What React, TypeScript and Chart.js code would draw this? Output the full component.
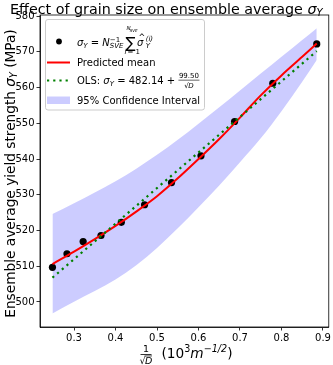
import React, { useEffect, useRef } from "react";
import { Chart, registerables } from "chart.js";

Chart.register(...registerables);

// Ensemble average points
const X_POINTS = [0.248, 0.283, 0.322, 0.365, 0.414, 0.47, 0.535, 0.606, 0.687, 0.779, 0.885];
const Y_POINTS = [509.7, 513.5, 516.9, 518.6, 522.3, 527.2, 533.4, 540.9, 550.5, 561.2, 572.2];

// Predicted mean and 95% CI
const CURVE_X = [0.248, 0.3, 0.35, 0.4, 0.45, 0.5, 0.55, 0.6, 0.65, 0.7, 0.75, 0.8, 0.85, 0.885];
const MEAN = [510.6, 514.1, 517.6, 521.3, 525.3, 529.6, 534.6, 540.0, 545.6, 551.6, 557.8, 563.4, 568.6, 572.3];
const UPPER = [524.6, 527.6, 530.6, 533.8, 537.3, 541.2, 545.4, 549.9, 554.5, 559.2, 563.9, 568.6, 573.3, 576.6];
const LOWER = [496.8, 500.1, 503.1, 506.3, 510.3, 515.1, 520.6, 526.5, 532.6, 539.1, 545.8, 553.4, 561.6, 567.7];

// OLS line endpoints
const OLS_X = [0.248, 0.885];
const OLS_Y = [506.8, 570.2];

const X_TICKS = [0.3, 0.4, 0.5, 0.6, 0.7, 0.8, 0.9];
const Y_TICKS = [500, 510, 520, 530, 540, 550, 560, 570, 580];

const FAM = "'DejaVu Sans', sans-serif";
const font = (size: number, italic = false) => `${italic ? "italic " : ""}${size}px ${FAM}`;

type Run = { t: string; size: number; italic?: boolean; dy?: number; stackSub?: Run; };

function drawRuns(ctx: CanvasRenderingContext2D, x: number, y: number, runs: Run[]) {
  let cx = x;
  for (const r of runs) {
    ctx.font = font(r.size, r.italic);
    ctx.fillText(r.t, cx, y + (r.dy || 0));
    let w = ctx.measureText(r.t).width;
    if (r.stackSub) {
      const s = r.stackSub;
      ctx.font = font(s.size, s.italic);
      ctx.fillText(s.t, cx, y + (s.dy || 0));
      w = Math.max(w, ctx.measureText(s.t).width);
    }
    cx += w;
  }
  return cx;
}

function measureRuns(ctx: CanvasRenderingContext2D, runs: Run[]) {
  let w = 0;
  for (const r of runs) {
    ctx.font = font(r.size, r.italic);
    let rw = ctx.measureText(r.t).width;
    if (r.stackSub) {
      ctx.font = font(r.stackSub.size, r.stackSub.italic);
      rw = Math.max(rw, ctx.measureText(r.stackSub.t).width);
    }
    w += rw;
  }
  return w;
}

const decorPlugin = {
  id: "decor",
  afterDraw(chart: any) {
    const ctx: CanvasRenderingContext2D = chart.ctx;
    const a = chart.chartArea;
    ctx.save();
    // frame
    ctx.strokeStyle = "#000";
    ctx.lineWidth = 0.8;
    ctx.strokeRect(a.left, a.top, a.right - a.left, a.bottom - a.top);

    ctx.fillStyle = "#000";
    ctx.textBaseline = "alphabetic";
    ctx.textAlign = "left";

    // Title
    drawRuns(ctx, 10, 13.5, [
      { t: "Effect of grain size on ensemble average ", size: 14.3 },
      { t: "σ", size: 14.3, italic: true },
      { t: "Y", size: 10, italic: true, dy: 2.5 },
    ]);

    // Y label
    const yRuns: Run[] = [
      { t: "Ensemble average yield strength ", size: 13.7 },
      { t: "σ", size: 13.7, italic: true },
      { t: "Y", size: 9.6, italic: true, dy: 2.4 },
      { t: " (MPa)", size: 13.7 },
    ];
    ctx.save();
    ctx.translate(15, 173.5);
    ctx.rotate(-Math.PI / 2);
    const yw = measureRuns(ctx, yRuns);
    drawRuns(ctx, -yw / 2, 0, yRuns);
    ctx.restore();

    // X label: fraction 1/sqrt(D)
    ctx.font = font(9.5);
    ctx.textAlign = "center";
    ctx.fillText("1", 146, 352);
    ctx.fillRect(140.5, 354, 11, 0.8);
    ctx.textAlign = "left";
    ctx.font = font(9.5);
    ctx.fillText("√", 139.5, 364);
    ctx.font = font(9.5, true);
    ctx.fillText("D", 145, 364);
    ctx.fillRect(144.5, 355.6, 7.5, 0.7);
    drawRuns(ctx, 161.5, 357.5, [
      { t: "(10", size: 13.7 },
      { t: "3", size: 9.6, dy: -5.5 },
      { t: "m", size: 13.7, italic: true },
      { t: "−1/2", size: 9.6, italic: true, dy: -5.5 },
      { t: ")", size: 13.7 },
    ]);

    // Legend frame
    const lx = 45, ly = 19, lw = 159, lh = 90.5;
    ctx.beginPath();
    (ctx as any).roundRect(lx + 0.5, ly + 0.5, lw, lh, 2.5);
    ctx.fillStyle = "rgba(255,255,255,0.8)";
    ctx.fill();
    ctx.strokeStyle = "#cccccc";
    ctx.lineWidth = 1;
    ctx.stroke();

    ctx.fillStyle = "#000";
    // Row 1: scatter marker
    ctx.beginPath();
    ctx.arc(59, 41.5, 2.9, 0, Math.PI * 2);
    ctx.fill();
    let cx = drawRuns(ctx, 77, 45.5, [
      { t: "σ", size: 10, italic: true },
      { t: "Y", size: 7, italic: true, dy: 2 },
      { t: " = ", size: 10 },
      { t: "N", size: 10, italic: true },
      { t: "−1", size: 7, dy: -4, stackSub: { t: "SVE", size: 7, italic: true, dy: 2.5 } },
    ]);
    // Sum with limits
    const sx = cx + 2;
    ctx.font = font(15);
    ctx.fillText("∑", sx, 47.5);
    const sw = ctx.measureText("∑").width;
    ctx.textAlign = "center";
    ctx.font = font(5.5, true);
    ctx.fillText("N", sx + sw / 2 - 2, 30);
    ctx.font = font(4, true);
    ctx.fillText("SVE", sx + sw / 2 + 3, 31.5);
    ctx.font = font(7, true);
    ctx.fillText("i", sx + sw / 2 - 5, 54);
    ctx.font = font(7);
    ctx.fillText(" = 1", sx + sw / 2 + 2, 54);
    ctx.textAlign = "left";
    cx = sx + sw + 1.5;
    ctx.font = font(10, true);
    ctx.fillText("σ", cx, 45.5);
    ctx.font = font(8);
    ctx.fillText("^", cx + 1.5, 40);
    cx += ctx.measureText("σ").width + 3.5;
    drawRuns(ctx, cx, 45.5, [
      { t: "(i)", size: 7, italic: true, dy: -5, stackSub: { t: "Y", size: 7, italic: true, dy: 2 } },
    ]);

    // Row 2: predicted mean
    ctx.strokeStyle = "#ff0000";
    ctx.lineWidth = 2;
    ctx.beginPath();
    ctx.moveTo(47, 62.5);
    ctx.lineTo(70, 62.5);
    ctx.stroke();
    ctx.font = font(10);
    ctx.fillText("Predicted mean", 77, 66);

    // Row 3: OLS
    ctx.strokeStyle = "#008000";
    ctx.lineWidth = 2.2;
    ctx.setLineDash([2.2, 4]);
    ctx.beginPath();
    ctx.moveTo(47, 80.5);
    ctx.lineTo(70, 80.5);
    ctx.stroke();
    ctx.setLineDash([]);
    cx = drawRuns(ctx, 77, 84, [
      { t: "OLS: ", size: 10 },
      { t: "σ", size: 10, italic: true },
      { t: "Y", size: 7, italic: true, dy: 2 },
      { t: " = 482.14 + ", size: 10 },
    ]);
    ctx.textAlign = "center";
    ctx.font = font(7);
    const fw = ctx.measureText("99.50").width;
    ctx.fillText("99.50", cx + fw / 2 + 0.5, 78);
    ctx.fillRect(cx, 79.8, fw + 1, 0.6);
    ctx.font = font(7);
    ctx.fillText("√", cx + fw / 2 - 2, 87.5);
    ctx.font = font(7, true);
    ctx.fillText("D", cx + fw / 2 + 2.5, 87.5);
    ctx.textAlign = "left";

    // Row 4: CI patch
    ctx.fillStyle = "rgba(0,0,255,0.2)";
    ctx.fillRect(47, 96.5, 23, 7.5);
    ctx.fillStyle = "#000";
    ctx.font = font(10);
    ctx.fillText("95% Confidence Interval", 77, 104);

    ctx.restore();
  },
};

export default function App() {
  const ref = useRef<HTMLCanvasElement>(null);
  useEffect(() => {
    document.body.style.margin = "0";
    const c = ref.current!;
    const pts = (xs: number[], ys: number[]) => xs.map((x, i) => ({ x, y: ys[i] }));
    const chart = new Chart(c, {
      type: "line",
      data: {
        datasets: [
          {
            label: "OLS",
            data: pts(OLS_X, OLS_Y),
            borderColor: "#008000",
            borderWidth: 2.2,
            borderDash: [2.2, 4],
            pointRadius: 0,
            fill: false,
          },
          {
            label: "Predicted mean",
            data: pts(CURVE_X, MEAN),
            borderColor: "#ff0000",
            borderWidth: 2,
            pointRadius: 0,
            cubicInterpolationMode: "monotone",
            fill: false,
          },
          {
            label: "Ensemble mean",
            data: pts(X_POINTS, Y_POINTS),
            showLine: false,
            pointRadius: 3.6,
            pointBackgroundColor: "#000",
            pointBorderColor: "#000",
            pointBorderWidth: 0,
            fill: false,
          },
          {
            label: "Upper",
            data: pts(CURVE_X, UPPER),
            borderWidth: 0,
            borderColor: "rgba(0,0,0,0)",
            pointRadius: 0,
            cubicInterpolationMode: "monotone",
            backgroundColor: "rgba(0,0,255,0.2)",
            fill: "+1",
          },
          {
            label: "Lower",
            data: pts(CURVE_X, LOWER),
            borderWidth: 0,
            borderColor: "rgba(0,0,0,0)",
            pointRadius: 0,
            cubicInterpolationMode: "monotone",
            fill: false,
          },
        ],
      },
      options: {
        responsive: false,
        animation: false,
        layout: { padding: { left: 0, top: 15, right: 2, bottom: 0 } },
        plugins: {
          legend: { display: false },
          title: { display: false },
          tooltip: { enabled: false },
        },
        scales: {
          x: {
            type: "linear",
            min: 0.218,
            max: 0.914,
            afterBuildTicks: (s: any) => { s.ticks = X_TICKS.map((v) => ({ value: v })); },
            afterFit: (s: any) => { s.height = 38; },
            ticks: {
              color: "#000",
              font: { family: FAM, size: 10 },
              padding: 2,
              maxRotation: 0,
              callback: (v: any) => Number(v).toFixed(1),
            },
            grid: { display: true, drawOnChartArea: false, drawTicks: true, tickLength: 3.5, color: "#000", lineWidth: 0.8 },
            border: { display: true, color: "#000", width: 0.8 },
          },
          y: {
            type: "linear",
            min: 493,
            max: 580.3,
            afterBuildTicks: (s: any) => { s.ticks = Y_TICKS.map((v) => ({ value: v })); },
            afterFit: (s: any) => { s.width = 40; },
            ticks: {
              color: "#000",
              font: { family: FAM, size: 10 },
              padding: 2,
              callback: (v: any) => String(v),
            },
            grid: { display: true, drawOnChartArea: false, drawTicks: true, tickLength: 3.5, color: "#000", lineWidth: 0.8 },
            border: { display: true, color: "#000", width: 0.8 },
          },
        },
      },
      plugins: [decorPlugin],
    } as any);
    return () => chart.destroy();
  }, []);
  return <canvas ref={ref} width={333} height={365} style={{ display: "block" }} />;
}
